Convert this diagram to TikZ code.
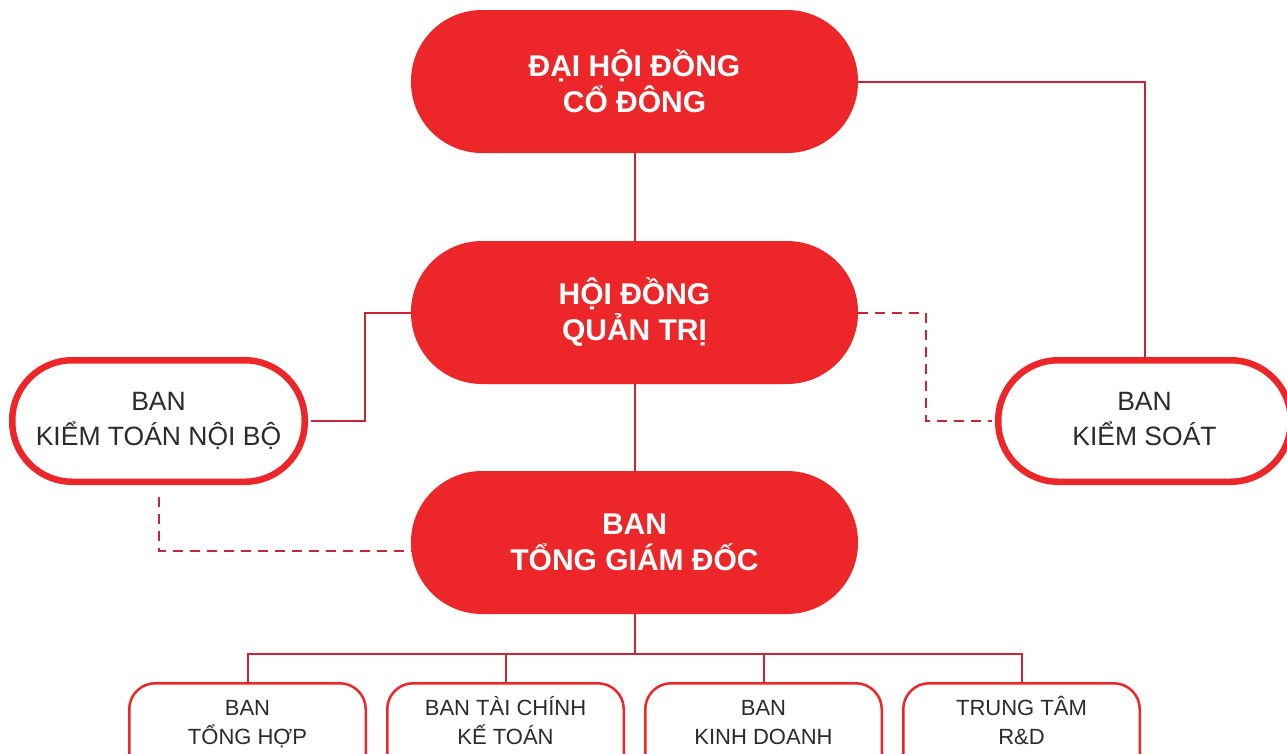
\documentclass[tikz,border=0pt]{standalone}
\usepackage{fontspec}
\setmainfont{Liberation Sans}
\definecolor{mainred}{RGB}{236,38,41}
\definecolor{linered}{RGB}{200,38,56}
\definecolor{txtgray}{RGB}{43,43,43}
\begin{document}
\begin{tikzpicture}[x=1pt,y=-1pt,
 bignode/.style={fill=mainred, draw=none, minimum width=447pt, minimum height=143pt, rounded corners=71pt, text=white, font=\fontsize{30}{36}\selectfont\bfseries, align=center, inner sep=0pt},
 ring/.style={draw=mainred, line width=6.5pt, fill=white, minimum width=292.5pt, minimum height=121.5pt, rounded corners=60pt, text=txtgray, font=\fontsize{26.5}{35}\selectfont, align=center, inner sep=0pt, text height=54pt, text depth=6pt},
 subbox/.style={draw=mainred, line width=2.5pt, fill=white, minimum width=236.5pt, minimum height=117pt, rounded corners=26pt, inner sep=0pt},
 subtext/.style={text=txtgray, font=\fontsize{22}{29}\selectfont, align=center, inner sep=0pt, text height=50pt, text depth=6pt},
 conn/.style={draw=linered, line width=2pt},
 dconn/.style={conn, dash pattern=on 10pt off 7pt}]
\useasboundingbox[fill=white] (0,0) rectangle (1287,753);
% coordinates
\coordinate (kL) at (365,312.5);
\coordinate (kR) at (926,312.5);
\coordinate (kB) at (158.5,551);
\coordinate (bus) at (634.5,654);
% nodes
\node[bignode] (dhd) at (634.5,81.5) {ĐẠI HỘI ĐỒNG\\CỔ ĐÔNG};
\node[bignode] (hdqt) at (634.5,312.5) {HỘI ĐỒNG\\QUẢN TRỊ};
\node[bignode] (tgd) at (634.5,542.5) {BAN\\TỔNG GIÁM ĐỐC};
\node[ring] (ktnb) at (158.5,421) {BAN\\KIỂM TOÁN NỘI BỘ};
\node[ring] (bks) at (1144.5,421) {BAN\\KIỂM SOÁT};
\node[subbox] (b1) at (247.5,741.75) {};
\node[subbox] (b2) at (505.5,741.75) {};
\node[subbox] (b3) at (763.5,741.75) {};
\node[subbox] (b4) at (1021.5,741.75) {};
\node[subtext] (t1) at (247.5,722) {BAN\\TỔNG HỢP};
\node[subtext] (t2) at (505.5,722) {BAN TÀI CHÍNH\\KẾ TOÁN};
\node[subtext] (t3) at (763.5,722) {BAN\\KINH DOANH};
\node[subtext] (t4) at (1021.5,722) {TRUNG TÂM\\R\&D};
% connectors
\draw[conn] (dhd.east) -| ([yshift=-3.25pt]bks.north);
\draw[conn] (dhd.south) -- (hdqt.north);
\draw[conn] (hdqt.south) -- (tgd.north);
\draw[conn] (hdqt.west) -- (kL) |- ([xshift=3.25pt]ktnb.east);
\draw[dconn] (hdqt.east) -- (kR) |- ([xshift=-3.25pt]bks.west);
\draw[dconn, shorten <=12pt] (ktnb.south) -- (kB) -- (kB -| tgd.west);
\draw[conn] (tgd.south) -- (bus);
\draw[conn] (b1.north) -- (b1.north |- bus) -- (b4.north |- bus) -- (b4.north);
\draw[conn] (b2.north) -- (b2.north |- bus);
\draw[conn] (b3.north) -- (b3.north |- bus);
\end{tikzpicture}
\end{document}
